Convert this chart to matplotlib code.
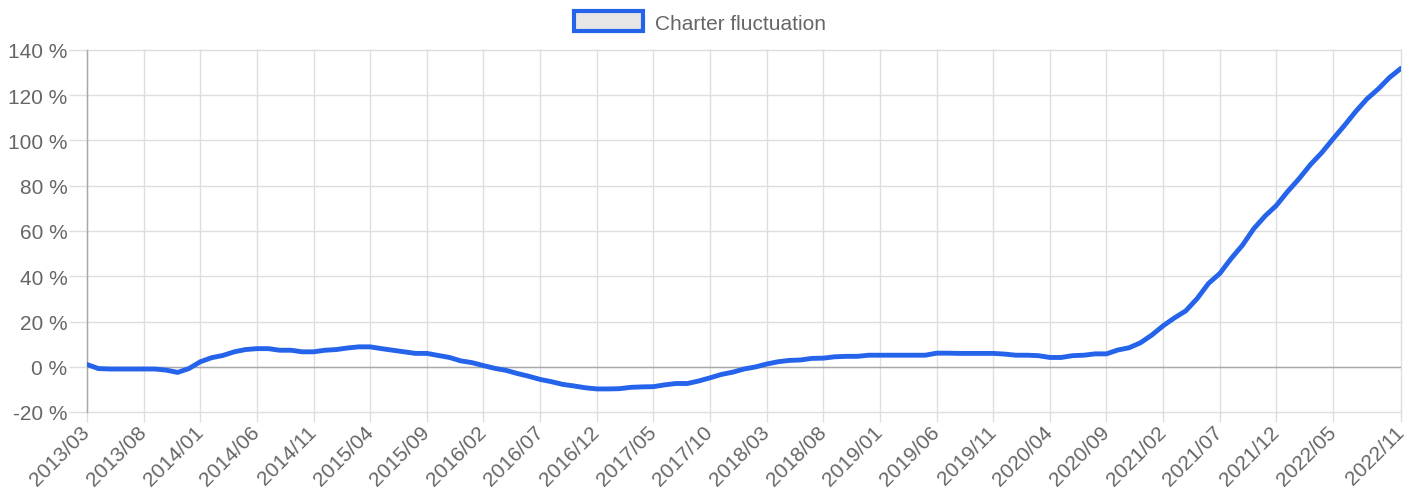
import matplotlib
matplotlib.use("Agg")
import matplotlib.pyplot as plt
from matplotlib.patches import Rectangle
import numpy as np
import pandas as pd

months = [p.strftime("%Y/%m") for p in pd.period_range("2013-03", "2022-11", freq="M")]
values = [
    1.0, -0.8, -1.0, -1.0, -1.0, -1.0, -1.0, -1.5, -2.5, -0.8,
    2.2, 4.0, 5.0, 6.6, 7.6, 8.0, 8.0, 7.3, 7.3, 6.6, 6.6, 7.3,
    7.6, 8.3, 8.8, 8.8, 8.0, 7.3, 6.6, 5.9, 5.9, 5.0, 4.1, 2.6,
    1.8, 0.5, -0.7, -1.6, -3.0, -4.2, -5.6, -6.6, -7.8, -8.5, -9.3, -9.8,
    -9.8, -9.7, -9.1, -8.9, -8.8, -8.0, -7.4, -7.4, -6.3, -4.9, -3.4, -2.4,
    -1.0, -0.1, 1.2, 2.2, 2.8, 3.0, 3.7, 3.8, 4.4, 4.6, 4.6, 5.1,
    5.1, 5.1, 5.1, 5.1, 5.1, 6.0, 6.0, 5.9, 5.9, 5.9, 5.9, 5.6,
    5.1, 5.1, 4.9, 4.1, 4.1, 4.9, 5.1, 5.7, 5.7, 7.4, 8.4, 10.6,
    14.0, 18.1, 21.6, 24.7, 30.1, 36.8, 41.2, 47.8, 53.7, 61.0, 66.6, 71.3,
    77.5, 83.1, 89.3, 94.6, 100.7, 106.6, 112.8, 118.4, 122.8, 127.9, 131.9,
]
series_label = "Charter fluctuation"
y_ticks = [-20, 0, 20, 40, 60, 80, 100, 120, 140]

plt.rcParams['font.family'] = ['Liberation Sans', 'DejaVu Sans']

W, H = 1423, 502
fig = plt.figure(figsize=(W / 100, H / 100), dpi=100)
ax = fig.add_axes([87 / W, 1 - 413 / H, (1401 - 87) / W, (413 - 51) / H])

blue = '#2563eb'
grid_c = '#dedede'
text_c = '#666666'

x = np.arange(len(values))
ax.plot(x, values, color=blue, lw=3.5, solid_joinstyle='round', solid_capstyle='round', zorder=3)

ax.set_xlim(0, len(values) - 1)
ax.set_ylim(y_ticks[0], y_ticks[-1])

tick_idx = list(range(0, len(values) - 2, 5)) + [len(values) - 1]
ax.set_xticks(tick_idx)
ax.set_xticklabels([months[i] for i in tick_idx], rotation=45, ha='right', va='center',
                   rotation_mode='anchor', color=text_c, fontsize=15)
ax.set_yticks(y_ticks)
ax.set_yticklabels([f"{v} %" for v in y_ticks], color=text_c, fontsize=15)

ax.grid(True, color=grid_c, lw=1)
for gl in ax.get_xgridlines() + ax.get_ygridlines():
    gl.set_clip_on(False)
ax.axhline(0, color='#a8a8a8', lw=1, zorder=2)
ax.tick_params(axis='x', length=7, color=grid_c, width=1, pad=5)
ax.tick_params(axis='y', length=13, color=grid_c, width=1, pad=1)

for s in ['top', 'right', 'bottom']:
    ax.spines[s].set_visible(False)
ax.spines['left'].set_color('#a8a8a8')
ax.spines['left'].set_linewidth(1)

handle = Rectangle((0, 0), 1, 1, facecolor='#e6e6e6', edgecolor=blue, lw=3)
fig.legend([handle], [series_label], loc='center', bbox_to_anchor=(700 / W, 1 - 23 / H),
           frameon=False, fontsize=15, labelcolor=text_c, handlelength=3.3,
           handleheight=1.1, handletextpad=0.55)

fig.savefig("out.png", dpi=100)
